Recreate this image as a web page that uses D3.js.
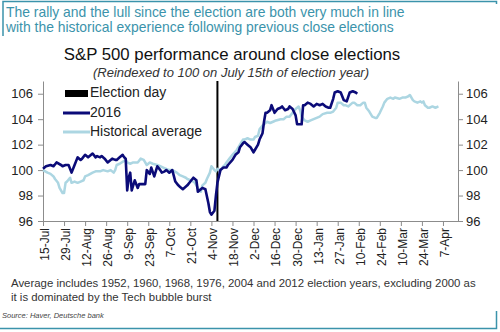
<!DOCTYPE html>
<html>
<head>
<meta charset="utf-8">
<script src="https://cdn.jsdelivr.net/npm/d3@7"></script>
<style>
  body { margin: 0; background: #fff; }
  text { font-family: "Liberation Sans", Arial, sans-serif; }
</style>
</head>
<body>
<script>
// data (days counted from 15 Jul 2016)
const startDate = new Date(2016, 6, 15)
const electionDay = new Date(2016, 10, 8)

const tickLabels = ['15-Jul', '29-Jul', '12-Aug', '26-Aug', '9-Sep', '23-Sep', '7-Oct', '21-Oct', '4-Nov', '18-Nov',
  '2-Dec', '16-Dec', '30-Dec', '13-Jan', '27-Jan', '10-Feb', '24-Feb', '10-Mar', '24-Mar', '7-Apr']
const yTicks = [96, 98, 100, 102, 104, 106]

const days2016 = [0, 2, 5, 7, 9, 12, 13, 15, 17, 19, 21, 23, 25, 26, 28, 30, 33, 35, 36, 38, 39, 41, 43, 45, 46, 48, 49,
  51, 53, 54, 55, 56, 57, 58, 59, 61, 63, 64, 66, 68, 69, 71, 72, 74, 76, 78, 79, 81, 82, 84, 86, 88, 90, 91, 93, 96, 98,
  100, 102, 103, 106, 108, 110, 111, 112, 114, 115, 116, 118, 120, 122, 123, 126, 128, 130, 131, 133, 134, 136, 138,
  140, 141, 143, 144, 146, 147, 148, 149, 151, 152, 154, 156, 158, 159, 161, 163, 164, 166, 168, 169, 171, 172, 173,
  174, 176, 178, 180, 182, 184, 186, 188, 190, 191, 193, 194, 196, 198, 200, 202, 204, 206, 208, 209]
const values2016 = [100.1, 100.3, 100.4, 100.3, 100.6, 100.4, 100.3, 100.4, 100.4, 99.8, 100.4, 101.0, 100.8, 100.9,
  101.2, 101.0, 101.3, 101.0, 101.1, 101.0, 101.1, 100.9, 100.6, 100.8, 100.9, 100.8, 100.8, 101.0, 101.2, 101.0, 100.9,
  98.4, 99.4, 99.8, 98.4, 99.2, 98.6, 98.9, 98.9, 98.9, 100.0, 99.7, 100.2, 99.5, 100.3, 100.0, 99.8, 99.9, 100.0, 99.8,
  100.0, 99.1, 98.8, 98.7, 98.5, 98.8, 99.1, 99.4, 99.2, 98.3, 98.6, 98.5, 97.4, 96.7, 96.5, 96.8, 98.0, 99.0, 100.0,
  100.2, 100.2, 100.4, 100.8, 101.2, 101.4, 101.8, 102.1, 102.2, 102.0, 101.8, 101.4, 101.6, 102.0, 102.4, 102.9, 103.8,
  104.5, 104.5, 104.7, 105.1, 104.5, 104.8, 104.9, 105.0, 104.7, 104.8, 105.0, 104.8, 104.3, 103.6, 103.6, 103.6, 105.1,
  105.1, 105.3, 105.2, 105.0, 105.2, 105.1, 105.2, 105.0, 104.9, 104.9, 105.6, 106.1, 106.2, 106.1, 105.5, 105.4, 106.1,
  106.2, 106.1, 106.0]

const daysHist = [0, 3, 5, 7, 8, 10, 11, 13, 14, 15, 16, 18, 19, 21, 23, 25, 27, 28, 30, 33, 35, 38, 40, 43, 45, 47, 48,
  49, 51, 55, 56, 58, 60, 63, 65, 67, 69, 71, 73, 76, 78, 80, 82, 84, 86, 89, 91, 93, 95, 96, 98, 100, 101, 102, 104, 105,
  106, 108, 109, 111, 112, 114, 115, 116, 118, 120, 121, 122, 124, 126, 129, 131, 133, 134, 136, 138, 140, 141, 143, 144,
  146, 148, 149, 151, 153, 155, 158, 160, 162, 164, 166, 168, 170, 171, 172, 174, 176, 178, 180, 182, 184, 186, 189, 191,
  193, 195, 196, 198, 200, 201, 203, 205, 206, 207, 209, 211, 213, 214, 215, 217, 219, 221, 222, 224, 226, 227, 229, 231,
  233, 234, 237, 239, 241, 243, 244, 246, 247, 249, 251, 252, 253, 254, 256, 257, 259, 261, 263]
const valuesHist = [100.0, 99.8, 99.7, 99.5, 99.3, 99.0, 98.6, 98.2, 98.2, 99.0, 99.1, 99.4, 99.0, 99.1, 99.0, 99.1, 99.2,
  99.5, 99.6, 99.8, 99.9, 99.9, 100.0, 99.9, 100.0, 99.8, 100.0, 100.4, 100.5, 100.8, 100.6, 100.5, 100.6, 100.6, 100.9,
  100.8, 100.4, 100.6, 100.5, 100.4, 100.3, 100.2, 100.1, 100.0, 100.0, 99.8, 99.6, 99.5, 99.4, 99.3, 99.2, 99.1, 99.0,
  98.8, 98.4, 98.3, 98.8, 99.0, 99.3, 99.8, 100.3, 100.0, 99.9, 100.1, 100.0, 100.3, 100.4, 100.6, 100.9, 101.2, 101.6,
  102.0, 102.4, 102.4, 102.5, 102.4, 102.4, 102.6, 102.7, 103.2, 103.5, 103.7, 103.8, 103.7, 103.8, 103.9, 104.0, 104.0,
  104.2, 104.2, 104.5, 104.8, 105.0, 104.7, 104.2, 103.9, 103.8, 103.9, 104.0, 104.1, 104.2, 104.4, 104.5, 104.5, 104.6,
  104.9, 105.3, 105.3, 105.1, 105.1, 105.0, 105.2, 105.3, 105.3, 105.1, 105.1, 105.3, 105.3, 104.9, 104.6, 104.2, 104.1,
  104.1, 104.5, 105.0, 105.3, 105.6, 105.7, 105.6, 105.7, 105.6, 105.7, 105.7, 105.8, 105.9, 105.5, 105.4, 105.3, 105.4,
  105.3, 105.4, 105.1, 104.9, 104.9, 105.0, 104.9, 105.0]

const legendLabels = ['Election day', '2016', 'Historical average']

const colors = { y2016: '#0b0b78', hist: '#acd6e2', axis: '#8c8c8c', teal: '#3b93ab', text: '#222' }

const svg = d3.select('body')
  .append('svg')
  .attr('width', 500)
  .attr('height', 332)

// frame lines
svg.append('path')
  .attr('d', 'M3,36V1.5H496.5V4')
  .style('fill', 'none').style('stroke', colors.teal).style('stroke-width', 1.5)
svg.append('path')
  .attr('d', 'M0,328.5H496.5V311')
  .style('fill', 'none').style('stroke', colors.teal).style('stroke-width', 1.5)

const header = ['The rally and the lull since the election are both very much in line',
  'with the historical experience following previous close elections']
svg.selectAll('.header')
  .data(header)
  .enter().append('text')
  .attr('x', 6)
  .attr('y', (d, i) => 17 + i * 15)
  .style('font-size', '13.9px')
  .style('fill', colors.teal)
  .text(d => d)

svg.append('text')
  .attr('x', 232).attr('y', 60)
  .attr('text-anchor', 'middle')
  .style('font-size', '16.8px').style('fill', '#111')
  .text('S&P 500 performance around close elections')
svg.append('text')
  .attr('x', 231).attr('y', 77)
  .attr('text-anchor', 'middle')
  .style('font-size', '13px').style('font-style', 'italic').style('fill', '#333')
  .text('(Reindexed to 100 on July 15th of election year)')

// scales
const x = d3.scaleTime()
  .domain([startDate, d3.timeDay.offset(startDate, 276)])
  .range([43, 458])
const y = d3.scaleLinear()
  .domain([96, 107])
  .range([221, 81])

const parseTick = d3.timeParse('%d-%b-%Y')
const tickDates = tickLabels.map(s => parseTick(s + (/Jan|Feb|Mar|Apr/.test(s) ? '-2017' : '-2016')))

const xAxis = svg.append('g')
  .attr('transform', 'translate(0,221)')
  .call(d3.axisBottom(x).tickValues(tickDates).tickFormat((d, i) => tickLabels[i]).tickSize(5).tickSizeOuter(0))
xAxis.selectAll('text')
  .attr('transform', 'rotate(-90)')
  .attr('text-anchor', 'end')
  .attr('x', -7).attr('y', 0).attr('dy', '0.45em')
  .style('font-size', '12px').style('fill', colors.text)

const yLeft = svg.append('g')
  .attr('transform', 'translate(43,0)')
  .call(d3.axisLeft(y).tickValues(yTicks).tickSize(5).tickSizeOuter(0))
const yRight = svg.append('g')
  .attr('transform', 'translate(458,0)')
  .call(d3.axisRight(y).tickValues(yTicks).tickSize(5).tickSizeOuter(0))

svg.selectAll('.domain, .tick line')
  .style('stroke', colors.axis)
  .style('stroke-width', 1)
yLeft.selectAll('text').attr('x', -10).style('font-size', '13px').style('fill', colors.text)
yRight.selectAll('text').attr('x', 8).style('font-size', '13px').style('fill', colors.text)

// election day marker
svg.append('line')
  .attr('x1', x(electionDay)).attr('x2', x(electionDay))
  .attr('y1', y(107)).attr('y2', y(96))
  .style('stroke', '#000').style('stroke-width', 2)

const line = d3.line()
  .x(d => x(d3.timeDay.offset(startDate, d[0])))
  .y(d => y(d[1]))

svg.append('path')
  .datum(daysHist.map((d, i) => [d, valuesHist[i]]))
  .attr('d', line)
  .style('fill', 'none').style('stroke', colors.hist).style('stroke-width', 2.5)
  .style('stroke-linejoin', 'round')

svg.append('path')
  .datum(days2016.map((d, i) => [d, values2016[i]]))
  .attr('d', line)
  .style('fill', 'none').style('stroke', colors.y2016).style('stroke-width', 2.6)
  .style('stroke-linejoin', 'round')

// legend
const legend = svg.append('g').attr('transform', 'translate(64,0)')
legend.append('rect')
  .attr('x', 1).attr('y', 90).attr('width', 23).attr('height', 7)
  .style('fill', '#000')
legend.append('line')
  .attr('x1', -1).attr('x2', 26).attr('y1', 113).attr('y2', 113)
  .style('stroke', colors.y2016).style('stroke-width', 3)
legend.append('line')
  .attr('x1', -1).attr('x2', 26).attr('y1', 132).attr('y2', 132)
  .style('stroke', colors.hist).style('stroke-width', 3)
legend.selectAll('.lab')
  .data(legendLabels)
  .enter().append('text')
  .attr('x', 26)
  .attr('y', (d, i) => 97 + i * 19.5)
  .style('font-size', '14px').style('fill', colors.text)
  .text(d => d)

// notes
const notes = ['Average includes 1952, 1960, 1968, 1976, 2004 and 2012 election years, excluding 2000 as',
  'it is dominated by the Tech bubble burst']
svg.selectAll('.note')
  .data(notes)
  .enter().append('text')
  .attr('x', 11)
  .attr('y', (d, i) => 287 + i * 14)
  .style('font-size', '11.4px').style('fill', '#333')
  .text(d => d)

svg.append('text')
  .attr('x', 2).attr('y', 318)
  .style('font-size', '7.5px').style('font-style', 'italic').style('fill', '#444')
  .text('Source: Haver, Deutsche bank')
</script>
</body>
</html>
